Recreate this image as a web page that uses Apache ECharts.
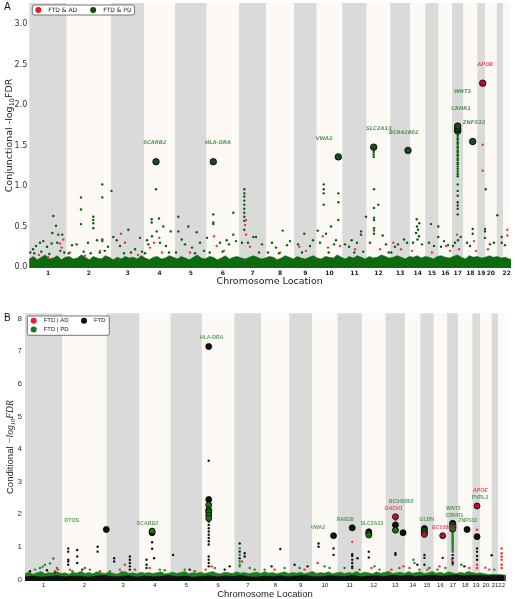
<!DOCTYPE html>
<html><head><meta charset="utf-8">
<script src="https://cdn.jsdelivr.net/npm/echarts@6/dist/echarts.min.js"></script>
<style>html,body{margin:0;padding:0;background:#fff}#c{width:515px;height:599px}</style>
</head><body><div id="c"></div>
<script>
// ---------- shared ----------
const chromosomes = ['1','2','3','4','5','6','7','8','9','10','11','12','13','14','15','16','17','18','19','20','21','22'];
const chromLen = [37.4,44.3,33,31,31.7,32.3,27,28,22.7,25.6,24.4,23.6,19.7,15.3,13.4,13.3,11.3,14,7.7,11.7,6.6,6.7];
const yTicksA = [0,0.5,1,1.5,2,2.5,3];
const yTicksB = [0,1,2,3,4,5,6,7,8];

// ---------- panel A : [chr, position in chr, -log10 FDR] ----------
const aBigPD = [[4,12,1.30],[6,6.6,1.30],[10,21.6,1.36],[12,7,1.48],[13,17.7,1.44],[17,5.7,1.68],[17,5.7,1.71],[17,5.7,1.74],[18,9.4,1.55]];
const aBigAD = [[19,5.4,2.27]];
const aPD = [
[1,24,0.63],[1,26.7,0.51],[1,23,0.42],[1,29,0.40],[1,33,0.40],[1,28,0.30],[1,14,0.32],[1,22.4,0.29],[1,3.7,0.22],[1,6.7,0.26],[1,10.7,0.30],[1,17.7,0.25],[1,1,0.18],[1,12,0.19],[1,31,0.20],[1,5,0.17],[1,20,0.16],[1,35,0.18],
[2,14.3,0.86],[2,14.3,0.71],[2,14.3,0.53],[2,35.6,1.02],[2,35.6,0.86],[2,26.6,0.62],[2,26.6,0.58],[2,26.6,0.54],[2,26.6,0.48],[2,35.6,0.34],[2,35.6,0.32],[2,10,0.28],[2,5.3,0.27],[2,21.3,0.30],[2,30.3,0.33],[2,41.3,0.25],[2,17,0.19],[2,38,0.20],[2,2,0.17],[2,24,0.17],[2,33,0.18],
[3,0.5,0.94],[3,17.3,0.46],[3,2.3,0.37],[3,5.7,0.33],[3,29,0.36],[3,9,0.26],[3,24,0.22],[3,20,0.18],[3,13,0.17],[3,31,0.19],
[4,7.7,0.59],[4,15,0.60],[4,12,0.96],[4,7.7,0.55],[4,19.3,0.50],[4,12.7,0.44],[4,4.3,0.28],[4,26.7,0.44],[4,3,0.33],[4,8,0.38],[4,16,0.30],[4,22,0.26],[4,25,0.18],[4,1,0.17],
[5,3.3,0.62],[5,13.3,0.50],[5,3.3,0.44],[5,6.7,0.34],[5,21.7,0.43],[5,10,0.28],[5,25,0.30],[5,17,0.24],[5,29,0.20],[5,1,0.18],[5,20,0.17],
[6,6.6,0.65],[6,6.6,0.55],[6,6.6,0.53],[6,0.3,0.36],[6,26.6,0.67],[6,26.6,0.40],[6,20,0.33],[6,13.3,0.30],[6,22.3,0.28],[6,29.3,0.32],[6,3,0.18],[6,16,0.19],
[7,5.3,0.96],[7,5.3,0.91],[7,5.3,0.87],[7,5.3,0.82],[7,5.3,0.77],[7,5.3,0.72],[7,5.3,0.67],[7,5.3,0.62],[7,5.3,0.57],[7,5.3,0.46],[7,14.3,0.37],[7,17,0.37],[7,23,0.28],[7,9,0.30],[7,3,0.30],[7,20,0.18],
[8,16.7,0.45],[8,6,0.30],[8,21,0.27],[8,24,0.32],[8,10,0.24],[8,2,0.18],[8,13,0.17],
[9,10.3,0.41],[9,4,0.28],[9,16,0.26],[9,19,0.33],[9,8,0.18],
[10,7,1.02],[10,7,0.96],[10,7,0.91],[10,7,0.77],[10,21.6,0.91],[10,21.6,0.80],[10,21.6,0.58],[10,1,0.45],[10,9.3,0.41],[10,14.3,0.50],[10,19.3,0.33],[10,17.3,0.28],[10,3.3,0.30],[10,12,0.18],
[11,23.7,0.62],[11,18.7,0.44],[11,18.7,0.40],[11,9.4,0.33],[11,2.7,0.28],[11,14.7,0.30],[11,6.7,0.25],[11,12,0.18],[11,21,0.19],
[12,7.3,0.96],[12,7.3,0.73],[12,7.3,0.61],[12,7.3,0.58],[12,7.3,0.48],[12,7.3,0.45],[12,7.3,0.41],[12,7,1.45],[12,7,1.42],[12,7,1.39],[12,7,1.36],[12,11.6,0.77],[12,16,0.39],[12,3.3,0.30],[12,19.3,0.28],[12,22,0.18],
[13,13.7,0.34],[13,7.7,0.28],[13,16.7,0.30],[13,4.7,0.25],[13,1,0.18],
[14,6.7,0.59],[14,9.3,0.54],[14,7,0.50],[14,8,0.46],[14,6,0.42],[14,9,0.38],[14,7.5,0.34],[14,3,0.30],[14,12,0.28],
[15,5.7,0.53],[15,13,0.50],[15,13,0.37],[15,3.7,0.30],[15,8.7,0.26],
[16,5.3,0.32],[16,9.3,0.27],[16,2.3,0.25],
[17,5.7,1.65],[17,5.7,1.62],[17,5.7,1.59],[17,5.7,1.57],[17,5.7,1.54],[17,5.7,1.52],[17,5.7,1.49],[17,5.7,1.47],[17,5.7,1.44],[17,5.7,1.42],[17,5.7,1.39],[17,5.7,1.37],[17,5.7,1.34],[17,5.7,1.32],[17,5.7,1.29],[17,5.7,1.27],[17,5.7,1.24],[17,5.7,1.21],[17,5.7,1.18],[17,5.7,1.15],[17,5.7,1.12],[17,5.7,1.02],[17,5.7,0.94],[17,5.7,0.88],[17,5.7,0.80],[17,5.7,0.76],[17,5.7,0.72],[17,5.7,0.65],[17,8.7,0.37],[17,3,0.30],[17,6,0.33],[17,1,0.26],
[18,9.4,1.52],[18,9.4,0.47],[18,9.4,0.41],[18,3.7,0.30],[18,6.7,0.26],
[19,7.7,0.47],[19,7.7,0.44],[19,7.7,0.36],
[20,0.7,0.96],[20,5,0.28],[20,9,0.30],
[21,0.6,0.64],[21,5,0.37],[21,5,0.30],
[22,1.7,0.27]
];
const aAD = [
[1,34,0.34],[1,32.4,0.24],[1,30.7,0.29],[1,9.7,0.15],[1,18.7,0.12],
[2,3.3,0.18],[2,18.3,0.14],[2,33.3,0.20],
[3,10,0.41],[3,14,0.30],[3,27,0.15],
[4,15.3,0.36],[4,10,0.30],[4,6,0.24],[4,18,0.18],
[5,15,0.18],
[6,10,0.26],[6,7.3,0.38],[6,17.3,0.20],
[7,7,0.58],[7,6,0.52],[7,7,0.40],[7,11,0.25],
[8,14,0.18],
[9,5.3,0.25],[9,12,0.20],
[10,6,0.38],[10,11.3,0.24],[10,23.3,0.26],
[11,12.7,0.22],
[12,13.3,0.22],
[13,3,0.30],[13,10.7,0.22],
[14,2,0.20],
[15,6.7,0.18],
[16,7.3,0.26],[16,11.3,0.20],
[17,5,0.40],[17,7,0.22],
[18,10.7,0.32],[18,12.7,0.20],
[19,5.4,1.51],[19,5.4,1.19],
[20,3,0.22],
[22,4,0.46],[22,4,0.39]
];
const aLabels = [['SCARB2',4,10.8,1.53,'PD'],['HLA-DRA',6,11.3,1.53,'PD'],['VWA2',10,7.3,1.58,'PD'],['SLC2A13',12,12.1,1.71,'PD'],['BC042802',13,13.5,1.66,'PD'],['WNT3',17,10.5,2.16,'PD'],['CRHR1',17,9,1.95,'PD'],['ZNF532',18,10.7,1.78,'PD'],['APOE',19,7.9,2.50,'AD']];
const floorStepA = 4;
const floorA = [0.10,0.13,0.09,0.12,0.15,0.10,0.11,0.14,0.09,0.12,
0.13,0.10,0.11,0.15,0.12,0.09,0.13,0.11,0.10,0.14,0.12,
0.09,0.12,0.10,0.13,0.11,0.12,0.10,0.14,0.11,0.09,0.12,0.13,
0.10,0.11,0.14,0.12,0.10,0.13,0.11,0.09,0.12,0.15,0.11,0.10,
0.13,0.12,0.09,0.11,0.14,0.10,0.12,0.13,0.11,0.10,0.12,0.14,
0.12,0.10,0.11,0.13,0.12,0.09,0.11,0.14,0.12,0.10,0.13,0.11,
0.10,0.12,0.14,0.11,0.10,0.13,0.12,0.11,0.15,0.12,0.10,0.13,
0.11,0.14,0.12,0.10,0.13,0.11,0.12,0.15,0.13,0.11,0.12,0.14,
0.12,0.10,0.13,0.12,0.14,0.11,0.13,0.12,0.10,0.13,0.14,0.12,
0.11,0.13,0.15,0.12,0.10,0.14,0.12,0.13,0.11,0.12,0.14,0.12,
0.13,0.11,0.12,0.10,0.09];

// ---------- panel B ----------
const bBigFTD = [[2,44,1.53],[4,12.6,1.43],[6,6.6,7.14],[6,6.6,2.45],[10,21.6,1.34],[11,14.7,1.58],[12,6.9,1.46],[13,10,1.67],[13,17.6,1.43],[15,4,1.56],[17,5.6,1.72],[18,8.7,1.53],[19,4.7,1.31]];
const bBigPD = [[4,12.6,1.48],[6,6.6,2.28],[6,6.6,2.13],[6,6.6,2.07],[6,6.6,1.97],[6,6.6,1.87],[12,6.9,1.41],[12,6.9,1.36],[13,10,1.51],[15,4,1.49],[15,4,1.43],[17,5.6,1.67],[17,5.6,1.60],[17,5.6,1.54]];
const bBigAD = [[13,10,1.92],[15,4,1.38],[16,8.9,1.34],[19,4.7,2.25]];
const bFTD = [
[1,22,0.28],[1,5,0.25],[1,30,0.22],
[2,5.9,0.95],[2,5.9,0.85],[2,5.9,0.60],[2,5.9,0.55],[2,5.9,0.45],[2,14.9,0.90],[2,14.9,0.70],[2,14.9,0.50],[2,35.3,1.00],[2,35.3,0.85],[2,20,0.30],
[3,7.6,0.65],[3,7.6,0.55],[3,23.3,0.70],[3,23.3,0.60],[3,23.3,0.50],[3,23.3,0.40],[3,23.3,0.30],
[4,12.6,1.14],[4,12.6,0.94],[4,7,0.60],[4,7,0.45],[4,7,0.35],[4,14.6,0.65],
[5,2.6,0.75],[5,19.3,0.30],
[6,6.6,3.64],[6,6.6,1.77],[6,6.6,1.67],[6,6.6,1.57],[6,6.6,1.47],[6,6.6,1.37],[6,6.6,1.27],[6,6.6,1.17],[6,6.6,1.07],[6,6.6,0.70],[6,6.6,0.60],[6,6.6,0.50],[6,6.6,0.40],[6,22.6,0.30],[6,27.6,0.40],
[7,5.3,1.10],[7,5.3,0.85],[7,5.3,0.65],[7,10.3,0.80],[7,10.3,0.70],
[8,19,0.93],[8,10.3,0.40],
[9,5.3,0.45],[9,18.3,0.40],
[10,6.6,1.10],[10,6.6,1.00],[10,21.6,0.95],[10,21.6,0.75],
[11,14.7,0.77],[11,14.7,0.72],[11,14.7,0.60],[11,14.7,0.50],[11,14.7,0.40],[11,14.7,0.35],[11,20,0.65],
[12,6.9,0.85],[12,6.9,0.67],
[13,10,0.80],[13,10,0.75],
[14,12.3,0.45],
[15,4,0.75],[15,4,0.66],[15,4,0.45],
[16,8.9,0.66],
[17,5.6,0.75],[17,5.6,0.65],[17,5.6,0.50],
[18,6,0.40],
[19,4.7,0.95],[19,4.7,0.85],[19,4.7,0.72],[19,4.7,0.60],
[20,11.6,0.74]
];
const bPD = [
[1,15,0.35],[1,20,0.45],[1,28.3,0.64],[1,25,0.49],[1,10,0.30],[1,17.7,0.39],[1,32,0.35],
[2,22.6,0.35],[2,27.6,0.30],[2,10,0.25],
[3,28.3,0.30],[3,3.3,0.25],[3,15,0.22],
[4,20.3,0.30],[4,25.3,0.28],
[5,14.3,0.30],[5,24.3,0.25],
[6,12.6,0.35],
[7,5.3,0.95],[7,5.3,0.75],[7,5.3,0.55],[7,5.3,0.45],[7,5.3,0.40],[7,15.3,0.35],[7,20.3,0.30],
[8,3.3,0.30],[8,23.3,0.35],
[9,10.3,0.35],
[10,12.6,0.40],[10,17.6,0.35],
[11,7,0.35],[11,22,0.30],
[12,12.6,0.40],[12,17.6,0.30],
[13,14,0.35],
[14,8.3,0.60],[14,9.3,0.50],[14,14.3,0.30],
[15,9,0.35],
[16,3.6,0.30],[16,11.6,0.35],
[17,5.6,1.50],[17,5.6,1.46],[17,5.6,1.42],[17,5.6,1.38],[17,5.6,1.34],[17,5.6,1.30],[17,5.6,1.26],[17,5.6,1.22],[17,5.6,1.18],[17,5.6,1.14],[17,5.6,1.10],[17,5.6,1.06],[17,5.6,1.02],[17,5.6,0.98],[17,5.6,0.94],[17,5.6,0.90],[17,5.6,0.85],[17,5.6,0.55],[17,5.6,0.45],
[18,3,0.45],
[21,2.6,0.30]
];
const bAD = [
[1,33,0.30],[1,30,0.25],[2,7.6,0.30],[2,37.6,0.25],[3,13.3,0.30],[3,18.3,0.45],[4,10.3,0.35],[6,9.6,0.40],[6,3.6,0.30],[7,7.6,0.55],[8,13.3,0.30],[9,15.3,0.30],[10,5.6,0.50],[11,14.7,1.15],[12,9.6,0.35],[13,10,1.82],[13,6,0.30],[13,18,0.40],[14,4.3,0.35],[15,7,0.30],[16,5.6,0.40],[17,5,0.60],[18,11,0.35],[19,4.7,1.52],[19,4.7,0.45],[19,4.7,0.35],[20,5.3,0.36],[20,9.3,0.30],[22,3.3,0.95],[22,3.3,0.80],[22,3.3,0.70],[22,3.3,0.60],[22,3.3,0.45],[22,3.3,0.35]
];
const bLabels = [['OTOS',2,9.3,1.79,'PD'],['SCARB2',4,8,1.72,'PD'],['HLA-DRA',6,9.6,7.41,'PD'],['VWA2',10,5.9,1.58,'PD'],['RAB38',11,7.7,1.82,'PD'],['SLC2A13',12,9.9,1.72,'PD'],['BC042802',13,15.7,2.38,'PD'],['GACH1',13,8,2.18,'AD'],['GLDN',15,6.3,1.82,'PD'],['BC036695',16,10.6,1.60,'AD'],['WNT3',17,6.3,2.18,'PD'],['CRHR1',17,7.3,1.97,'PD'],['ZNF532',18,9.3,1.80,'PD'],['APOE',19,8,2.71,'AD'],['PVRL2',19,7.7,2.52,'PD']];
const floorStepB = 4;
const floorBgreen = [0.18,0.22,0.16,0.20,0.24,0.17,0.21,0.19,0.23,0.18,
0.20,0.16,0.22,0.19,0.25,0.18,0.21,0.17,0.23,0.20,0.18,
0.22,0.19,0.16,0.21,0.24,0.18,0.20,0.17,0.22,0.19,0.21,0.18,
0.20,0.23,0.17,0.19,0.22,0.18,0.21,0.24,0.17,0.20,0.19,0.22,
0.18,0.21,0.24,0.19,0.17,0.22,0.20,0.18,0.23,0.19,0.21,0.17,
0.20,0.22,0.18,0.24,0.19,0.21,0.17,0.20,0.23,0.18,0.21,0.19,
0.22,0.17,0.20,0.24,0.18,0.21,0.19,0.23,0.17,0.20,0.22,0.18,
0.21,0.19,0.24,0.18,0.22,0.20,0.17,0.23,0.19,0.21,0.25,0.18,
0.20,0.22,0.18,0.24,0.19,0.21,0.23,0.18,0.20,0.24,0.19,0.22,
0.18,0.23,0.20,0.17,0.22,0.19,0.24,0.21,0.18,0.20,0.17,0.15,
0.16,0.14,0.15,0.13,0.14];
const floorStepBblack = 8;
const floorBblack = [0.08,0.10,0.07,0.09,0.11,0.08,0.10,0.09,0.07,0.10,
0.12,0.08,0.09,0.11,0.07,0.10,0.08,0.09,0.12,0.08,
0.10,0.07,0.09,0.11,0.08,0.10,0.09,0.12,0.08,0.07,
0.10,0.09,0.11,0.08,0.10,0.12,0.09,0.08,0.11,0.10,
0.09,0.12,0.08,0.10,0.11,0.09,0.13,0.10,0.12,0.09,
0.11,0.13,0.10,0.12,0.14,0.11,0.13,0.12,0.11,0.13,0.12];

// ---------- build ----------
const offsets = [];
chromLen.forEach((l, i) => offsets.push(i ? offsets[i - 1] + chromLen[i - 1] : 0));
const total = offsets[21] + chromLen[21];
const centers = offsets.map((o, i) => o + chromLen[i] / 2);
const toXY = d => [offsets[d[0] - 1] + d[1], d[2]];
const floorPts = (arr, step) => arr.map((h, i) => [i * step, h]);
const nearestChrom = v => { let b = 0, bd = 1e9; centers.forEach((c, i) => { const d = Math.abs(c - v); if (d < bd) { bd = d; b = i; } }); return chromosomes[b]; };

const GRAY = '#dadada', CREAM = '#fdfaf6';
const bands = chromLen.map((l, i) => [{ xAxis: offsets[i], itemStyle: { color: i % 2 ? CREAM : GRAY } }, { xAxis: offsets[i] + l }]);

const GA = { green: '#0a5a0a', floor: '#0e6a0e', red: '#e83a3a', bigG: '#1d4a1d', bigR: '#b01030', lblG: '#2e7d32', lblR: '#e0303a' };
const GB = { green: '#1d8a1d', floor: '#1f7f1f', black: '#111111', red: '#f03030', bigG: '#1a6f1a', bigR: '#b0182a', lblG: '#2e8b3a', lblR: '#e0303a' };

function labelSeries(list, idx, colors, font, italicAD, italicPD) {
  return {
    type: 'scatter', xAxisIndex: idx, yAxisIndex: idx, symbolSize: 1, silent: true, z: 6, clip: false,
    itemStyle: { color: 'rgba(0,0,0,0)' },
    data: list.map(d => ({
      value: toXY([d[1], d[2], d[3]]), name: d[0],
      label: { color: d[4] === 'AD' ? colors.lblR : colors.lblG, fontStyle: (d[4] === 'AD' ? italicAD : italicPD) ? 'italic' : 'normal' }
    })),
    label: { show: true, position: 'inside', formatter: p => p.name, fontSize: 5.2, fontWeight: 'bold', fontFamily: font }
  };
}

const sm = (name, data, idx, color, size, z) => ({ name, type: 'scatter', xAxisIndex: idx, yAxisIndex: idx, data: data.map(toXY), symbolSize: size, itemStyle: { color, opacity: 1 }, silent: true, z: z, clip: false });
const big = (name, data, idx, color, size) => ({ name, type: 'scatter', xAxisIndex: idx, yAxisIndex: idx, data: data.map(toXY), symbolSize: size, itemStyle: { color, borderColor: '#000', borderWidth: 0.8, opacity: 1 }, silent: true, z: 5 });

const xAxisBase = (idx, font, bold, margin, gap) => ({
  gridIndex: idx, type: 'value', min: 0, max: total,
  axisLine: { show: false }, axisTick: { show: false }, splitLine: { show: false },
  axisLabel: { customValues: centers, formatter: v => nearestChrom(v), showMinLabel: true, showMaxLabel: true, hideOverlap: false, fontSize: 6, fontWeight: bold ? 'bold' : 'normal', fontFamily: font, color: '#222', margin },
  name: 'Chromosome Location', nameLocation: 'middle', nameGap: gap, nameMoveOverlap: false,
  nameTextStyle: { fontSize: 9.5, fontFamily: font, color: '#222' }
});

const option = {
  animation: false,
  backgroundColor: '#ffffff',
  grid: [
    { left: 29.3, right: 5, top: 3, bottom: 331, containLabel: false, outerBoundsMode: 'none' },
    { left: 25, right: 10, top: 313.3, bottom: 18, containLabel: false, outerBoundsMode: 'none' }
  ],
  xAxis: [xAxisBase(0, 'DejaVu Sans', true, 2, 9), xAxisBase(1, 'Liberation Sans', false, 1, 8)],
  yAxis: [
    {
      gridIndex: 0, type: 'value', min: -0.012, max: 3.26,
      axisLine: { show: false }, axisTick: { show: false }, splitLine: { show: false },
      axisLabel: { customValues: yTicksA, formatter: v => v.toFixed(1), fontSize: 8, fontFamily: 'DejaVu Sans', color: '#333', margin: 2 },
      name: '{n|Conjunctional -log}{s|10}{n|FDR}', nameLocation: 'middle', nameRotate: 90, nameGap: 13, nameMoveOverlap: false,
      nameTextStyle: { rich: {
        n: { fontSize: 9.5, fontFamily: 'DejaVu Sans', color: '#222', lineHeight: 14 },
        s: { fontSize: 6.5, fontFamily: 'DejaVu Sans', color: '#222', lineHeight: 8, verticalAlign: 'bottom' } } }
    },
    {
      gridIndex: 1, type: 'value', min: -0.05, max: 8.16,
      axisLine: { show: false }, axisTick: { show: false }, splitLine: { show: false },
      axisLabel: { customValues: yTicksB, formatter: v => String(v), fontSize: 8, fontFamily: 'Liberation Sans', color: '#333', margin: 3 },
      name: '{n|Conditional }{m|\u2212log}{s|10}{m|FDR}', nameLocation: 'middle', nameRotate: 90, nameGap: 8, nameMoveOverlap: false,
      nameTextStyle: { rich: {
        n: { fontSize: 9.5, fontFamily: 'Liberation Sans', color: '#222', lineHeight: 14 },
        m: { fontSize: 9.5, fontFamily: 'Liberation Serif', fontStyle: 'italic', color: '#222', lineHeight: 14 },
        s: { fontSize: 6.5, fontFamily: 'Liberation Serif', fontStyle: 'italic', color: '#222', lineHeight: 8, verticalAlign: 'bottom' } } }
    }
  ],
  legend: [
    { left: 32.3, top: 5, orient: 'horizontal', padding: [2, 3, 2, 3], itemWidth: 10, itemHeight: 6, itemGap: 13, icon: 'circle', selectedMode: false,
      backgroundColor: '#fff', borderColor: '#555', borderWidth: 0.8, borderRadius: 2,
      textStyle: { fontSize: 6, fontFamily: 'DejaVu Sans', color: '#222', padding: 0 },
      data: [{ name: 'FTD & AD', itemStyle: { color: '#ee1c25' } }, { name: 'FTD & PD', itemStyle: { color: '#0b4f0b' } }] },
    { left: 30.7, top: 317.7, orient: 'horizontal', padding: 0, itemWidth: 10, itemHeight: 6, itemGap: 12.4, icon: 'circle', selectedMode: false,
      textStyle: { fontSize: 6, fontFamily: 'Liberation Sans', color: '#222', padding: 0 },
      data: [{ name: 'FTD | AD', itemStyle: { color: '#ee2028' } }, { name: 'FTD', itemStyle: { color: '#111' } }] },
    { left: 30.7, top: 326.5, orient: 'horizontal', padding: 0, itemWidth: 10, itemHeight: 6, itemGap: 12.4, icon: 'circle', selectedMode: false,
      textStyle: { fontSize: 6, fontFamily: 'Liberation Sans', color: '#222', padding: 0 },
      data: [{ name: 'FTD | PD', itemStyle: { color: '#1a7a1a' } }] }
  ],
  graphic: [
    { type: 'text', left: 4, top: 2, z: 10, style: { text: 'A', fontSize: 10, fontFamily: 'DejaVu Sans', fill: '#111' } },
    { type: 'text', left: 4, top: 313, z: 10, style: { text: 'B', fontSize: 10, fontFamily: 'Liberation Sans', fill: '#111' } },
    { type: 'rect', z: 3, shape: { x: 27.3, y: 316, width: 82, height: 19.3, r: 1.5 }, style: { fill: '#fff', stroke: '#555', lineWidth: 0.8 } }
  ],
  series: [
    // panel A
    { name: 'floorA', type: 'line', xAxisIndex: 0, yAxisIndex: 0, data: floorPts(floorA, floorStepA), symbol: 'none', silent: true, z: 2,
      lineStyle: { width: 0.6, color: GA.floor }, areaStyle: { color: GA.floor, opacity: 1, origin: 'start' },
      markArea: { silent: true, label: { show: false }, data: bands } },
    sm('FTD & PD', aPD, 0, GA.green, 2.4, 3),
    sm('FTD & AD', aAD, 0, GA.red, 2.4, 3),
    big('bigPD_A', aBigPD, 0, GA.bigG, 6.5),
    big('bigAD_A', aBigAD, 0, GA.bigR, 6.5),
    labelSeries(aLabels, 0, GA, 'DejaVu Sans', true, true),
    // panel B
    { name: 'floorBg', type: 'line', xAxisIndex: 1, yAxisIndex: 1, data: floorPts(floorBgreen, floorStepB), symbol: 'none', silent: true, z: 2,
      lineStyle: { width: 0.6, color: GB.floor }, areaStyle: { color: GB.floor, opacity: 1, origin: 'start' },
      markArea: { silent: true, label: { show: false }, data: bands } },
    { name: 'floorBk', type: 'line', xAxisIndex: 1, yAxisIndex: 1, data: floorPts(floorBblack, floorStepBblack), symbol: 'none', silent: true, z: 2,
      lineStyle: { width: 0.6, color: '#111' }, areaStyle: { color: '#111', opacity: 1, origin: 'start' } },
    sm('FTD | PD', bPD, 1, GB.green, 2.4, 3),
    sm('FTD', bFTD, 1, GB.black, 2.4, 3),
    sm('FTD | AD', bAD, 1, GB.red, 2.4, 3),
    big('bigFTD_B', bBigFTD, 1, GB.black, 6),
    big('bigPD_B', bBigPD, 1, GB.bigG, 6),
    big('bigAD_B', bBigAD, 1, GB.bigR, 6),
    labelSeries(bLabels, 1, GB, 'Liberation Sans', true, false)
  ]
};
echarts.init(document.getElementById('c'), null, { renderer: 'canvas' }).setOption(option);
</script>
</body></html>
